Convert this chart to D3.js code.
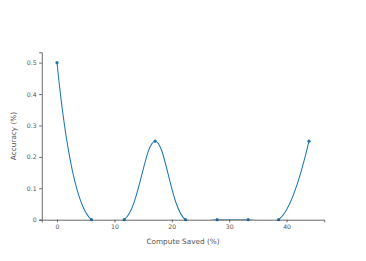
<!DOCTYPE html>
<html>
<head>
<meta charset="utf-8">
<script src="https://cdn.jsdelivr.net/npm/d3@7"></script>
<style>
  body { margin: 0; background: #fff; }
  svg { display: block; }
  text { font-family: "DejaVu Sans", Verdana, sans-serif; fill: #555; }
</style>
</head>
<body>
<svg id="chart" width="366" height="261"></svg>
<script>
// values
const computeSaved = [0, 6.0, 11.7, 17.1, 22.4, 27.9, 33.3, 38.6, 43.9];
const accuracy = [0.5, 0, 0, 0.25, 0, 0, 0, 0, 0.25];
const xTicks = [0, 10, 20, 30, 40];
const yTicks = [0, 0.1, 0.2, 0.3, 0.4, 0.5];

const W = 366, H = 261;
const margin = { top: 52.3, right: 41.8, bottom: 41.3, left: 41.8 };
const iw = W - margin.left - margin.right;
const ih = H - margin.top - margin.bottom;

const svg = d3.select("#chart");

const x = d3.scaleLinear().domain([-2.65, 46.55]).range([0, iw]);
const y = d3.scaleLinear().domain([0, 0.533]).range([ih, 0]);

svg.append("defs").append("clipPath").attr("id", "plotclip")
  .append("rect").attr("width", iw).attr("height", ih);

const g = svg.append("g").attr("transform", `translate(${margin.left},${margin.top})`);

// plotly-style spline (catmull-rom tangents, smoothing 1)
function makeTangent(p0, p1, p2, s) {
  const d1x = p0[0] - p1[0], d1y = p0[1] - p1[1];
  const d2x = p2[0] - p1[0], d2y = p2[1] - p1[1];
  const d1a = Math.pow(d1x * d1x + d1y * d1y, 0.25);
  const d2a = Math.pow(d2x * d2x + d2y * d2y, 0.25);
  const numx = (d2a * d2a * d1x - d1a * d1a * d2x) * s;
  const numy = (d2a * d2a * d1y - d1a * d1a * d2y) * s;
  const den1 = 3 * d2a * (d1a + d2a);
  const den2 = 3 * d1a * (d1a + d2a);
  return [
    [p1[0] + (den1 && numx / den1), p1[1] + (den1 && numy / den1)],
    [p1[0] - (den2 && numx / den2), p1[1] - (den2 && numy / den2)]
  ];
}

function splinePath(pts) {
  const p = d3.path();
  const tan = [];
  for (let i = 1; i < pts.length - 1; i++) {
    tan.push(makeTangent(pts[i - 1], pts[i], pts[i + 1], 1));
  }
  p.moveTo(pts[0][0], pts[0][1]);
  p.quadraticCurveTo(tan[0][0][0], tan[0][0][1], pts[1][0], pts[1][1]);
  for (let i = 2; i < pts.length - 1; i++) {
    const a = tan[i - 2][1], b = tan[i - 1][0];
    p.bezierCurveTo(a[0], a[1], b[0], b[1], pts[i][0], pts[i][1]);
  }
  const last = tan[pts.length - 3][1];
  p.quadraticCurveTo(last[0], last[1], pts[pts.length - 1][0], pts[pts.length - 1][1]);
  return p.toString();
}

const pts = computeSaved.map((d, i) => [x(d), y(accuracy[i])]);

const plot = g.append("g").attr("clip-path", "url(#plotclip)");

plot.append("path")
  .attr("d", splinePath(pts))
  .attr("fill", "none")
  .attr("stroke", "#1f77b4")
  .attr("stroke-width", 1.05);

g.append("g").selectAll("circle")
  .data(pts)
  .enter().append("circle")
  .attr("cx", d => d[0])
  .attr("cy", d => d[1])
  .attr("r", 1.6)
  .attr("fill", "#1f77b4");

// axes
const xAxis = g.append("g")
  .attr("transform", `translate(0,${ih})`)
  .call(d3.axisBottom(x).tickValues(xTicks).tickSize(2.6).tickPadding(2.5).tickFormat(d3.format("d")));

const yAxis = g.append("g")
  .call(d3.axisLeft(y).tickValues(yTicks).tickSize(2.6).tickPadding(2.5).tickFormat(d => d === 0 ? "0" : d3.format(".1f")(d)));

[xAxis, yAxis].forEach(ax => {
  ax.select(".domain").attr("stroke", "#444").attr("stroke-width", 0.8);
  ax.selectAll(".tick line").attr("stroke", "#444").attr("stroke-width", 0.8);
  ax.selectAll(".tick text").attr("font-size", 6.2).attr("fill", "#555")
    .style("font-family", '"DejaVu Sans", Verdana, sans-serif');
});

svg.append("text")
  .attr("x", margin.left + iw / 2)
  .attr("y", 243.5)
  .attr("text-anchor", "middle")
  .attr("font-size", 7.3)
  .text("Compute Saved (%)");

svg.append("text")
  .attr("transform", `translate(16,${margin.top + ih / 2}) rotate(-90)`)
  .attr("text-anchor", "middle")
  .attr("font-size", 7.3)
  .text("Accuracy (%)");
</script>
</body>
</html>
